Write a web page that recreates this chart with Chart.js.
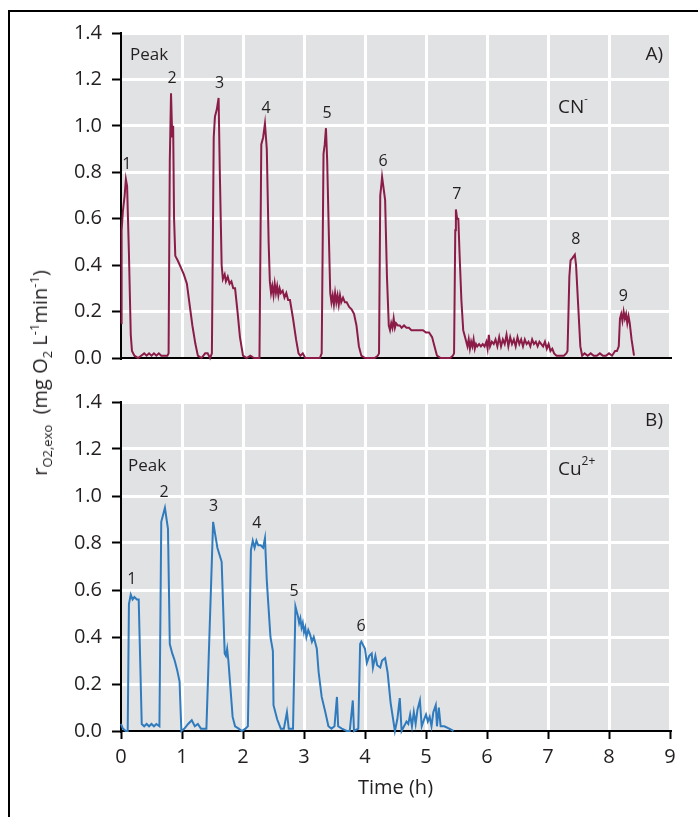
<!DOCTYPE html>
<html><head><meta charset="utf-8">
<script src="https://cdn.jsdelivr.net/npm/chart.js@4.4.0/dist/chart.umd.min.js"></script>
<style>
html,body{margin:0;padding:0;background:#fff;}
#wrap{position:relative;width:698px;height:817px;overflow:hidden;font-family:"Open Sans",sans-serif;color:#231f20;}
#frame{position:absolute;left:8px;top:10px;width:720px;height:840px;border-top:2px solid #000;border-left:2px solid #000;}
#cA{position:absolute;left:0;top:0;}
#cB{position:absolute;left:0;top:380px;}
#ytitle{position:absolute;left:40px;top:373px;transform:translate(-50%,-50%) rotate(-90deg);white-space:pre;font-size:20px;line-height:20px;}
#ytitle sub,#ytitle sup{font-size:13px;line-height:0;}
</style></head>
<body>
<div id="wrap">
<div id="frame"></div>
<canvas id="cA" width="698" height="380"></canvas>
<canvas id="cB" width="698" height="437"></canvas>
<div id="ytitle">r<sub>O2,exo</sub>  (mg O<sub>2</sub> L<sup>-1</sup>min<sup>-1</sup>)</div>
</div>
<script>
// ---- Panel A (CN-) ----
const timeA = [0.00,0.01,0.03,0.06,0.08,0.10,0.13,0.16,0.18,0.22,0.28,0.33,0.38,0.42,0.46,0.50,0.54,0.58,0.62,0.66,0.70,0.76,
0.78,0.80,0.82,0.84,0.855,0.87,0.89,0.93,0.98,1.03,1.08,1.12,1.17,1.22,1.26,1.32,1.38,1.42,1.46,
1.49,1.52,1.54,1.57,1.60,1.62,1.65,1.67,1.70,1.72,1.75,1.78,1.81,1.84,1.87,1.91,1.95,2.00,2.06,2.12,2.18,2.24,
2.27,2.30,2.33,2.36,2.39,2.42,2.44,2.46,2.48,2.50,2.52,2.54,2.56,2.58,2.60,2.62,2.65,2.68,2.71,2.74,2.77,2.82,2.87,2.91,2.94,2.98,3.02,3.10,3.18,3.26,
3.29,3.32,3.34,3.36,3.38,3.41,3.43,3.45,3.47,3.49,3.51,3.53,3.55,3.57,3.59,3.61,3.64,3.67,3.70,3.74,3.78,3.82,3.86,3.90,3.94,4.00,4.08,4.16,4.21,
4.23,4.25,4.27,4.28,4.30,4.33,4.36,4.39,4.41,4.43,4.45,4.47,4.49,4.51,4.54,4.57,4.60,4.64,4.68,4.72,4.76,4.80,4.85,4.90,4.95,5.00,5.05,5.10,5.14,5.18,5.24,5.32,5.40,5.44,
5.46,5.48,5.49,5.51,5.53,5.55,5.58,5.61,5.64,5.66,5.68,5.70,5.72,5.74,5.76,5.78,5.80,5.82,5.84,5.87,5.90,5.93,5.96,5.99,6.01,6.03,6.05,6.08,6.11,6.14,6.17,6.20,6.23,6.26,6.29,6.32,6.35,6.38,6.41,6.44,6.47,6.50,6.53,6.56,6.59,6.62,6.65,6.68,6.71,6.74,6.77,6.80,6.83,6.86,6.89,6.92,6.95,6.98,7.01,7.04,7.07,7.10,7.14,7.20,7.26,7.30,
7.32,7.35,7.37,7.40,7.44,7.46,7.50,7.53,7.56,7.60,7.65,7.70,7.75,7.80,7.85,7.90,7.95,8.00,8.05,8.10,8.13,
8.16,8.18,8.20,8.22,8.24,8.26,8.28,8.30,8.32,8.34,8.37,8.41];
const rateA = [0.15,0.55,0.63,0.70,0.77,0.74,0.45,0.10,0.03,0.01,0.00,0.01,0.02,0.01,0.02,0.01,0.02,0.01,0.02,0.01,0.01,0.01,
0.02,0.85,1.14,0.95,1.00,0.60,0.44,0.42,0.39,0.36,0.32,0.24,0.14,0.06,0.01,0.00,0.02,0.02,0.00,
0.02,0.95,1.04,1.07,1.12,0.80,0.40,0.34,0.36,0.33,0.35,0.32,0.33,0.30,0.30,0.20,0.09,0.01,0.00,0.01,0.00,0.00,
0.00,0.92,0.95,1.01,0.90,0.50,0.33,0.28,0.31,0.27,0.32,0.28,0.31,0.27,0.30,0.28,0.29,0.26,0.28,0.25,0.25,0.17,0.08,0.02,0.01,0.02,0.00,0.00,0.00,0.00,
0.02,0.88,0.92,0.99,0.85,0.50,0.28,0.24,0.27,0.23,0.28,0.24,0.27,0.23,0.27,0.24,0.26,0.24,0.24,0.22,0.21,0.19,0.14,0.05,0.01,0.00,0.00,0.00,0.01,
0.02,0.70,0.75,0.78,0.74,0.68,0.35,0.14,0.12,0.15,0.13,0.17,0.13,0.15,0.14,0.14,0.13,0.14,0.13,0.13,0.12,0.12,0.12,0.12,0.12,0.11,0.11,0.09,0.05,0.01,0.00,0.00,0.00,0.01,
0.02,0.55,0.64,0.60,0.60,0.45,0.25,0.12,0.09,0.07,0.05,0.08,0.04,0.07,0.05,0.08,0.04,0.06,0.05,0.06,0.05,0.06,0.05,0.07,0.04,0.10,0.05,0.07,0.06,0.08,0.05,0.09,0.05,0.08,0.06,0.10,0.05,0.09,0.06,0.08,0.05,0.09,0.06,0.08,0.05,0.08,0.06,0.07,0.05,0.08,0.06,0.07,0.05,0.07,0.06,0.05,0.07,0.04,0.06,0.03,0.04,0.02,0.01,0.01,0.01,0.02,
0.03,0.35,0.42,0.43,0.445,0.40,0.20,0.05,0.01,0.02,0.01,0.02,0.01,0.01,0.02,0.01,0.01,0.02,0.01,0.03,0.03,
0.05,0.17,0.19,0.16,0.20,0.17,0.19,0.15,0.18,0.15,0.08,0.01];
const peakNumA = ['1','2','3','4','5','6','7','8','9'];
const peakTimeA = [0.08,0.82,1.60,2.36,3.36,4.28,5.49,7.44,8.22];
const peakRateA = [0.77,1.14,1.12,1.01,0.99,0.78,0.64,0.445,0.20];

// ---- Panel B (Cu2+) ----
const timeB = [0.00,0.03,0.08,0.11,0.13,0.16,0.19,0.22,0.26,0.29,0.34,0.38,0.42,0.46,0.50,0.54,0.58,0.63,
0.66,0.72,0.77,0.80,0.84,0.88,0.92,0.96,0.99,1.04,1.10,1.16,1.21,1.26,1.31,1.40,
1.51,1.58,1.65,1.70,1.72,1.74,1.76,1.83,1.87,1.93,1.98,2.04,2.08,
2.13,2.16,2.19,2.22,2.25,2.29,2.33,2.36,2.39,2.45,2.49,2.50,2.56,2.62,2.67,2.72,2.75,2.82,
2.86,2.88,2.90,2.92,2.94,2.96,2.98,3.00,3.02,3.04,3.07,3.10,3.13,3.16,3.19,3.21,3.24,3.29,3.35,3.40,3.45,3.50,3.54,3.56,3.62,3.70,3.75,3.80,3.82,3.89,
3.92,3.94,4.00,4.03,4.07,4.11,4.13,4.17,4.20,4.25,4.28,4.33,4.37,4.42,4.49,4.53,4.57,4.60,4.64,4.68,4.71,4.74,4.77,4.80,4.83,4.86,4.90,4.93,4.97,5.00,5.03,5.06,5.09,5.12,5.16,5.18,5.21,5.24,5.30,5.38,5.45];
const rateB = [0.03,0.01,0.00,0.00,0.54,0.58,0.56,0.57,0.56,0.56,0.03,0.02,0.03,0.02,0.03,0.02,0.03,0.02,
0.89,0.95,0.86,0.37,0.33,0.30,0.26,0.21,0.00,0.01,0.03,0.046,0.02,0.03,0.01,0.01,
0.89,0.78,0.72,0.33,0.32,0.35,0.30,0.06,0.02,0.01,0.00,0.01,0.02,
0.77,0.81,0.78,0.81,0.79,0.79,0.78,0.82,0.64,0.40,0.34,0.11,0.05,0.01,0.01,0.08,0.01,0.01,
0.53,0.51,0.49,0.46,0.48,0.44,0.46,0.42,0.44,0.40,0.43,0.41,0.38,0.40,0.37,0.35,0.25,0.145,0.08,0.02,0.01,0.02,0.145,0.02,0.01,0.00,0.00,0.13,0.00,0.01,
0.37,0.38,0.35,0.29,0.32,0.33,0.27,0.32,0.28,0.27,0.30,0.31,0.25,0.12,0.00,0.05,0.14,0.00,0.02,0.04,0.03,0.07,0.02,0.08,0.03,0.09,0.13,0.02,0.05,0.07,0.04,0.06,0.02,0.08,0.11,0.02,0.10,0.02,0.02,0.01,0.00];
const peakNumB = ['1','2','3','4','5','6'];
const peakTimeB = [0.16,0.69,1.50,2.21,2.82,3.92];
const peakRateB = [0.58,0.95,0.89,0.82,0.53,0.38];

const xTicks = [0,1,2,3,4,5,6,7,8,9];
const yTicks = [0.0,0.2,0.4,0.6,0.8,1.0,1.2,1.4];

const FONT = '"Open Sans", sans-serif';
const TXT = '#231f20';

const bgPlugin = {
  id: 'bg',
  beforeDraw(chart) {
    const {ctx, chartArea: a} = chart;
    ctx.save();
    ctx.fillStyle = '#e1e2e4';
    ctx.fillRect(a.left, a.top, a.right - a.left, a.bottom - a.top);
    ctx.restore();
  }
};

function drawRich(ctx, parts, x, y, align) {
  let w = 0;
  parts.forEach(p => { ctx.font = p.size + 'px ' + FONT; p.w = ctx.measureText(p.t).width; w += p.w; });
  let cx = align === 'right' ? x - w : x;
  parts.forEach(p => {
    ctx.font = p.size + 'px ' + FONT;
    ctx.textAlign = 'left';
    ctx.textBaseline = 'middle';
    ctx.fillText(p.t, cx, y + (p.dy || 0));
    cx += p.w;
  });
}

function makeAnnot(nums, times, rates, texts) {
  return {
    id: 'annot',
    afterDatasetsDraw(chart) {
      const {ctx, chartArea: a, scales: {x, y}} = chart;
      ctx.save();
      ctx.fillStyle = TXT;
      ctx.font = '16px ' + FONT;
      ctx.textAlign = 'center';
      ctx.textBaseline = 'middle';
      nums.forEach((n, i) => {
        ctx.fillText(n, x.getPixelForValue(times[i]) + 1, y.getPixelForValue(rates[i]) - 15);
      });
      texts.forEach(t => {
        const px = t.align === 'right' ? a.right + t.dx : a.left + t.dx;
        drawRich(ctx, t.parts, px, a.top + t.dy, t.align);
      });
      ctx.restore();
    }
  };
}

function makeChart(id, times, rates, color, isBottom, annot, pad) {
  const gridColor = c => (c.tick && c.tick.value === 0) ? 'rgba(0,0,0,0)' : '#ffffff';
  return new Chart(document.getElementById(id), {
    type: 'line',
    data: {
      datasets: [{
        data: times.map((t, i) => ({x: t, y: rates[i]})),
        borderColor: color,
        borderWidth: 2,
        pointRadius: 0,
        tension: 0,
        fill: false,
        clip: false
      }]
    },
    options: {
      responsive: false,
      animation: false,
      layout: {padding: pad},
      plugins: {legend: {display: false}, tooltip: {enabled: false}},
      scales: {
        x: {
          type: 'linear', min: 0, max: 9,
          afterBuildTicks: s => { s.ticks = xTicks.map(v => ({value: v})); },
          afterFit: s => { s.height = isBottom ? 69 : 15; },
          ticks: {
            display: isBottom, padding: 6, color: TXT,
            font: {family: FONT, size: 20},
            callback: v => String(v)
          },
          grid: {color: gridColor, lineWidth: 3, drawTicks: isBottom, tickColor: '#000', tickLength: 8, tickWidth: 2},
          border: {color: '#000', width: 2},
          title: {display: isBottom, text: 'Time (h)', color: TXT, font: {family: FONT, size: 20}, padding: 0}
        },
        y: {
          min: 0, max: 1.4,
          afterBuildTicks: s => { s.ticks = yTicks.map(v => ({value: v})); },
          afterFit: s => { s.width = 121; },
          ticks: {
            padding: 10, color: TXT,
            font: {family: FONT, size: 20},
            callback: v => Number(v).toFixed(1)
          },
          grid: {color: gridColor, lineWidth: 3, tickColor: '#000', tickLength: 9, tickWidth: 2},
          border: {color: '#000', width: 2}
        }
      }
    },
    plugins: [bgPlugin, annot]
  });
}

makeChart('cA', timeA, rateA, '#8a1c47', false,
  makeAnnot(peakNumA, peakTimeA, peakRateA, [
    {parts: [{t: 'Peak', size: 17}], dx: 9, dy: 22},
    {parts: [{t: 'A)', size: 19}], dx: -7, dy: 22, align: 'right'},
    {parts: [{t: 'CN', size: 19}, {t: '-', size: 11, dy: -9}], dx: 437, dy: 75}
  ]),
  {top: 33, right: 28, bottom: 0, left: 0});

makeChart('cB', timeB, rateB, '#2f7bbd', true,
  makeAnnot(peakNumB, peakTimeB, peakRateB, [
    {parts: [{t: 'Peak', size: 17}], dx: 7, dy: 64},
    {parts: [{t: 'B)', size: 19}], dx: -7, dy: 19, align: 'right'},
    {parts: [{t: 'Cu', size: 19}, {t: '2+', size: 12, dy: -8}], dx: 437, dy: 68}
  ]),
  {top: 19, right: 28, bottom: 17, left: 0});
</script>
</body></html>
